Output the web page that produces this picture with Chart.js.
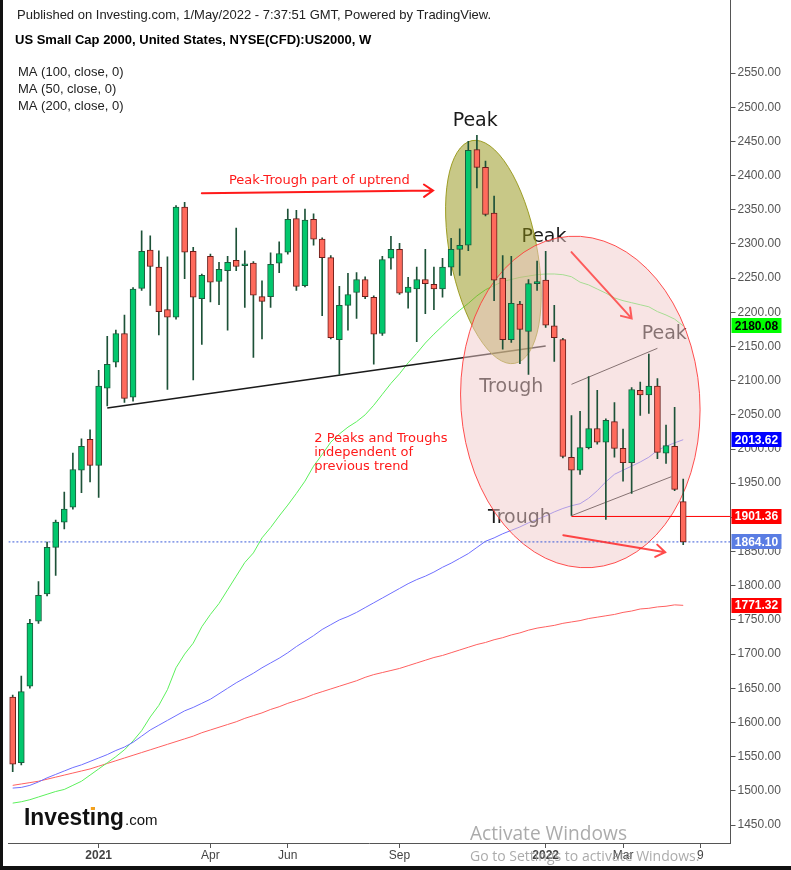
<!DOCTYPE html>
<html>
<head>
<meta charset="utf-8">
<script src="https://cdn.jsdelivr.net/npm/chart.js@4/dist/chart.umd.min.js"></script>
<style>
  html, body { margin: 0; padding: 0; background: #fff; }
</style>
</head>
<body>
<canvas id="chart" width="791" height="870"></canvas>
<script>
// weekly bars, week of 26 Oct 2020 .. 25 Apr 2022, plus empty weeks to 16 May 2022
const weeks = [];
for (let k = 0; k < 84; k++) {
  const d = new Date(Date.UTC(2020, 9, 26) + k * 7 * 864e5);
  weeks.push(d.toISOString().slice(0, 10));
}
const tickAt = [10, 23, 32, 45, 62, 71, 80];
const tickText = ['2021', 'Apr', 'Jun', 'Sep', '2022', 'Mar', '9'];

const ohlcOpen = [1637, 1541, 1653, 1748, 1788, 1856, 1893, 1915, 1969, 2014,
  1976, 2089, 2127, 2169, 2076, 2235, 2291, 2266, 2204, 2193,
  2354, 2289, 2220, 2282, 2245, 2261, 2276, 2268, 2272, 2223,
  2223, 2272, 2288, 2337, 2239, 2336, 2307, 2280, 2160, 2210,
  2229, 2248, 2222, 2169, 2279, 2292, 2229, 2234, 2248, 2241,
  2234, 2266, 2292, 2298, 2438, 2412, 2345, 2250, 2160, 2212,
  2172, 2242, 2247, 2180, 2160, 1988, 1969, 2002, 2030, 2010,
  2040, 2001, 1980, 2086, 2079, 2092, 1994, 2004, 1923];
const ohlcHigh = [1640, 1668, 1751, 1806, 1864, 1896, 1937, 1994, 2015, 2028,
  2115, 2165, 2174, 2196, 2236, 2319, 2312, 2290, 2281, 2356,
  2361, 2295, 2256, 2285, 2273, 2282, 2323, 2290, 2274, 2246,
  2287, 2303, 2351, 2349, 2351, 2344, 2309, 2283, 2238, 2257,
  2258, 2252, 2224, 2282, 2311, 2301, 2251, 2266, 2292, 2266,
  2279, 2308, 2322, 2450, 2459, 2421, 2370, 2283, 2282, 2216,
  2248, 2275, 2289, 2210, 2162, 2049, 2055, 2106, 2086, 2044,
  2068, 2029, 2090, 2098, 2139, 2103, 2035, 2061, 1956];
const ohlcLow = [1528, 1538, 1650, 1745, 1785, 1815, 1883, 1912, 1936, 1952,
  1929, 2063, 2120, 2068, 2070, 2232, 2210, 2167, 2087, 2190,
  2249, 2101, 2153, 2215, 2211, 2174, 2261, 2207, 2134, 2161,
  2207, 2258, 2285, 2232, 2237, 2298, 2195, 2161, 2109, 2174,
  2191, 2220, 2124, 2166, 2263, 2226, 2206, 2157, 2198, 2204,
  2222, 2254, 2254, 2290, 2382, 2341, 2217, 2146, 2156, 2125,
  2109, 2232, 2178, 2128, 1987, 1903, 1963, 2000, 2007, 1897,
  1988, 1953, 1935, 2049, 2052, 1986, 1979, 1939, 1860];
const ohlcClose = [1539, 1645, 1745, 1786, 1856, 1893, 1912, 1970, 2004, 1976,
  2092, 2124, 2169, 2074, 2234, 2289, 2267, 2201, 2193, 2354,
  2288, 2222, 2254, 2244, 2263, 2273, 2267, 2271, 2225, 2216,
  2270, 2286, 2336, 2238, 2335, 2307, 2280, 2163, 2210, 2226,
  2248, 2223, 2168, 2277, 2292, 2228, 2237, 2248, 2242, 2234,
  2266, 2292, 2298, 2437, 2412, 2343, 2247, 2160, 2213, 2175,
  2242, 2245, 2181, 2163, 1989, 1969, 2002, 2030, 2010, 2042,
  2001, 1980, 2087, 2079, 2092, 1995, 2005, 1941, 1864.10];

const ma50 = [1482, 1484, 1487, 1491, 1495, 1499, 1502, 1508, 1514, 1523,
  1532, 1541, 1550, 1560, 1573, 1588, 1608, 1625, 1648, 1680,
  1700, 1716, 1740, 1758, 1774, 1794, 1814, 1834, 1848, 1870,
  1885, 1902, 1918, 1935, 1953, 1975, 1992, 2010, 2022, 2032,
  2040, 2050, 2064, 2080, 2096, 2110, 2126, 2140, 2155, 2168,
  2180, 2192, 2203, 2213, 2224, 2233, 2239, 2245, 2248, 2251,
  2253, 2255, 2256, 2256, 2255, 2252, 2244, 2240, 2234, 2228,
  2221, 2217, 2214, 2211, 2208, 2201, 2196, 2190, 2180.08];
const ma100 = [1504, 1505, 1508, 1513, 1519, 1524, 1529, 1534, 1538, 1543,
  1548, 1553, 1559, 1564, 1571, 1580, 1589, 1596, 1603, 1610,
  1617, 1622, 1628, 1634, 1642, 1650, 1658, 1665, 1672, 1680,
  1687, 1694, 1702, 1711, 1719, 1727, 1736, 1743, 1750, 1755,
  1761, 1768, 1775, 1782, 1789, 1796, 1803, 1809, 1814, 1820,
  1827, 1833, 1840, 1847, 1856, 1865, 1870, 1876, 1881, 1886,
  1892, 1897, 1902, 1908, 1913, 1917, 1920, 1928, 1939, 1952,
  1963, 1969, 1975, 1981, 1988, 1998, 2004, 2009, 2013.62];
const ma200 = [1508, 1510, 1512, 1514, 1517, 1520, 1523, 1526, 1529, 1532,
  1536, 1540, 1544, 1548, 1552, 1556, 1560, 1564, 1568, 1572,
  1576, 1580, 1585, 1589, 1593, 1597, 1601, 1606, 1610, 1614,
  1619, 1623, 1628, 1632, 1636, 1641, 1645, 1649, 1653, 1657,
  1661, 1666, 1670, 1673, 1676, 1679, 1683, 1687, 1691, 1695,
  1698, 1702, 1706, 1710, 1714, 1717, 1721, 1724, 1728, 1731,
  1735, 1738, 1740, 1742, 1745, 1747, 1749, 1752, 1754, 1756,
  1758, 1761, 1763, 1766, 1767, 1769, 1770, 1772, 1771.32];

const hLineLevel = 1901.36;

const UP = '#02c76d', DOWN = '#ff6a5c';
const UP_EDGE = '#1b5c3c', DOWN_EDGE = '#6b1d1a', WICK = '#1d5238';
const UI_FONT = "'Liberation Sans', Arial, sans-serif";
const NOTE_FONT = "'DejaVu Sans', Verdana, sans-serif";

const isUp = ohlcOpen.map((o, k) => ohlcClose[k] >= o);
const wickData = ohlcLow.map((l, k) => [l, ohlcHigh[k]]);
const bodyData = ohlcOpen.map((o, k) => [o, ohlcClose[k]]);

// drawings, in (bar index, price) terms
const supportLine = [[11.0, 2060], [62.0, 2150.6]];
const channelLines = [
  [[65.0, 2094.6], [75.0, 2147.3]],
  [[65.0, 1902.4], [76.6, 1959.4]]
];
const noteText = ['Peak', 'Peak', 'Peak', 'Trough', 'Trough'];
const noteIdx = [53.8, 61.8, 75.8, 58.0, 59.0];
const noteVal = [2480, 2310, 2168, 2091, 1899];
const arrows = [
  { from: [22.0, 2374], to: [48.9, 2378], color: '#ff1a1a' },
  { from: [65.0, 2288], to: [72.0, 2191], color: 'rgba(255,45,45,0.75)' },
  { from: [64.05, 1874], to: [75.9, 1849], color: 'rgba(255,30,30,0.8)' }
];

function px(chart, i, v) {
  return [chart.scales.x.getPixelForValue(i), chart.scales.y.getPixelForValue(v)];
}

function drawEllipse(chart, i, v, halfIdx, halfVal, rot, fill, stroke) {
  const ctx = chart.ctx;
  const [cx, cy] = px(chart, i, v);
  const rx = chart.scales.x.getPixelForValue(i + halfIdx) - cx;
  const ry = chart.scales.y.getPixelForValue(v - halfVal) - cy;
  ctx.beginPath();
  ctx.ellipse(cx, cy, rx, ry, rot, 0, Math.PI * 2);
  ctx.fillStyle = fill;
  ctx.fill();
  ctx.lineWidth = 1;
  ctx.strokeStyle = stroke;
  ctx.stroke();
}

function drawArrow(ctx, x1, y1, x2, y2, color) {
  const a = Math.atan2(y2 - y1, x2 - x1), L = 11, s = 0.6;
  ctx.strokeStyle = color;
  ctx.lineWidth = 2;
  ctx.lineCap = 'round';
  ctx.beginPath();
  ctx.moveTo(x1, y1);
  ctx.lineTo(x2, y2);
  ctx.moveTo(x2 - L * Math.cos(a - s), y2 - L * Math.sin(a - s));
  ctx.lineTo(x2, y2);
  ctx.lineTo(x2 - L * Math.cos(a + s), y2 - L * Math.sin(a + s));
  ctx.stroke();
}

const drawings = {
  id: 'drawings',
  beforeDatasetDraw(chart, args) {
    if (args.index !== 3) return;
    const ctx = chart.ctx, area = chart.chartArea;
    ctx.save();
    ctx.beginPath();
    ctx.rect(area.left, area.top, area.right - area.left, area.bottom - area.top);
    ctx.clip();

    // trend lines
    ctx.lineWidth = 1.5;
    ctx.strokeStyle = '#1a1a1a';
    let [a, b] = [px(chart, ...supportLine[0]), px(chart, ...supportLine[1])];
    ctx.beginPath(); ctx.moveTo(a[0], a[1]); ctx.lineTo(b[0], b[1]); ctx.stroke();
    ctx.lineWidth = 1;
    channelLines.forEach(l => {
      const p = px(chart, ...l[0]), q = px(chart, ...l[1]);
      ctx.beginPath(); ctx.moveTo(p[0], p[1]); ctx.lineTo(q[0], q[1]); ctx.stroke();
    });

    // peak / trough notes
    ctx.font = '19px ' + NOTE_FONT;
    ctx.fillStyle = '#1a1a1a';
    ctx.textAlign = 'center';
    ctx.textBaseline = 'middle';
    noteText.forEach((t, k) => {
      const p = px(chart, noteIdx[k], noteVal[k]);
      ctx.fillText(t, p[0], p[1]);
    });

    // highlighted zones
    drawEllipse(chart, 55.92, 2288.2, 5.07, 165.9, -0.19, 'rgba(145,145,15,0.5)', 'rgba(150,150,20,0.9)');
    drawEllipse(chart, 66.03, 2068.8, 13.9, 242.8, -0.07, 'rgba(241,201,201,0.5)', 'rgba(255,60,60,0.9)');

    // current price and level lines
    const yc = chart.scales.y.getPixelForValue(ohlcClose[ohlcClose.length - 1]);
    ctx.strokeStyle = '#3a5bd9';
    ctx.setLineDash([2, 2]);
    ctx.beginPath(); ctx.moveTo(area.left, yc); ctx.lineTo(area.right, yc); ctx.stroke();
    ctx.setLineDash([]);
    const yl = chart.scales.y.getPixelForValue(hLineLevel);
    ctx.strokeStyle = '#ff0000';
    ctx.beginPath(); ctx.moveTo(chart.scales.x.getPixelForValue(65.0), yl); ctx.lineTo(area.right, yl); ctx.stroke();
    ctx.restore();
  },
  afterDatasetsDraw(chart) {
    const ctx = chart.ctx;
    ctx.save();
    arrows.forEach(ar => {
      const p = px(chart, ...ar.from), q = px(chart, ...ar.to);
      drawArrow(ctx, p[0], p[1], q[0], q[1], ar.color);
    });
    ctx.fillStyle = '#ff1a1a';
    ctx.font = '13px ' + NOTE_FONT;
    ctx.textAlign = 'left';
    ctx.textBaseline = 'middle';
    let p = px(chart, 25.16, 2392);
    ctx.fillText('Peak-Trough part of uptrend', p[0], p[1]);
    p = px(chart, 35.08, 2015.6);
    ['2 Peaks and Troughs', 'independent of', 'previous trend'].forEach((t, k) => {
      ctx.fillText(t, p[0], p[1] + k * 14);
    });
    ctx.restore();
  },
  afterDraw(chart) {
    const ctx = chart.ctx, area = chart.chartArea;
    ctx.save();
    // header
    ctx.textAlign = 'left';
    ctx.textBaseline = 'middle';
    ctx.fillStyle = '#222';
    ctx.font = '13px ' + UI_FONT;
    ctx.fillText('Published on Investing.com, 1/May/2022 - 7:37:51 GMT, Powered by TradingView.', 17, 15);
    ctx.fillStyle = '#000';
    ctx.font = 'bold 13px ' + UI_FONT;
    ctx.fillText('US Small Cap 2000, United States, NYSE(CFD):US2000, W', 15, 40);
    ctx.fillStyle = '#222';
    ctx.font = '13px ' + UI_FONT;
    chart.data.datasets.slice(0, 3).forEach((ds, k) => ctx.fillText(ds.label, 18, 72 + k * 17));

    // price tags on the axis
    const tagVals = [ma50[ma50.length - 1], ma100[ma100.length - 1], hLineLevel,
      ohlcClose[ohlcClose.length - 1], ma200[ma200.length - 1]];
    const tagBg = ['#00ff00', '#0000ff', '#ff0000', '#5a7de3', '#ff0000'];
    const tagFg = ['#000', '#fff', '#fff', '#fff', '#fff'];
    ctx.font = 'bold 12px ' + UI_FONT;
    ctx.textAlign = 'center';
    tagVals.forEach((v, k) => {
      const y = chart.scales.y.getPixelForValue(v);
      ctx.fillStyle = tagBg[k];
      ctx.fillRect(area.right + 1, Math.round(y - 7.5), 50, 15);
      ctx.fillStyle = tagFg[k];
      ctx.fillText(v.toFixed(2), area.right + 26, y + 0.5);
    });

    // logo
    ctx.textAlign = 'left';
    ctx.textBaseline = 'alphabetic';
    ctx.fillStyle = '#111';
    ctx.font = 'bold 23px ' + UI_FONT;
    const full = ctx.measureText('Investing').width;
    const k = Math.min(1, 100 / full);
    ctx.fillText('Investing', 24, 825, full * k);
    const iw = ctx.measureText('Invest').width * k;
    ctx.fillStyle = '#f5a01a';
    ctx.fillRect(24 + iw + 1, 807, 4, 3);
    ctx.fillStyle = '#111';
    ctx.font = '15px ' + UI_FONT;
    ctx.fillText('.com', 24 + full * k + 1, 825);

    // watermark
    ctx.fillStyle = 'rgba(150,150,150,0.8)';
    ctx.textBaseline = 'middle';
    ctx.font = '20px "Open Sans", sans-serif';
    ctx.fillText('Activate Windows', 470, 834, 157);
    ctx.font = '14px "Open Sans", sans-serif';
    ctx.fillText('Go to Settings to activate Windows.', 470, 857, 232);

    // frame
    ctx.fillStyle = '#111';
    ctx.fillRect(0, 0, 3, 870);
    ctx.fillRect(0, 866, 791, 4);
    ctx.restore();
  }
};

new Chart(document.getElementById('chart'), {
  type: 'bar',
  data: {
    labels: weeks,
    datasets: [
      { type: 'line', label: 'MA (100, close, 0)', data: ma100, borderColor: '#6f6fff', borderWidth: 1, pointRadius: 0, order: 3 },
      { type: 'line', label: 'MA (50, close, 0)', data: ma50, borderColor: '#5cf05c', borderWidth: 1, pointRadius: 0, order: 3 },
      { type: 'line', label: 'MA (200, close, 0)', data: ma200, borderColor: '#ff6060', borderWidth: 1, pointRadius: 0, order: 3 },
      { label: 'wick', data: wickData, backgroundColor: WICK, borderWidth: 0, barThickness: 1, grouped: false, order: 2 },
      {
        label: 'body', data: bodyData,
        backgroundColor: isUp.map(u => u ? UP : DOWN),
        borderColor: isUp.map(u => u ? UP_EDGE : DOWN_EDGE),
        borderWidth: 1, borderSkipped: false, barThickness: 6, minBarLength: 2,
        grouped: false, order: 1
      }
    ]
  },
  options: {
    responsive: false,
    devicePixelRatio: 1,
    animation: false,
    events: [],
    layout: { padding: { left: 8.4, top: 0, right: 0, bottom: 0 } },
    plugins: { legend: { display: false }, tooltip: { enabled: false } },
    scales: {
      x: {
        type: 'category',
        offset: true,
        grid: {
          offset: false,
          drawOnChartArea: false,
          tickLength: 5,
          tickColor: ctx => tickAt.includes(ctx.index) ? '#555' : 'rgba(0,0,0,0)'
        },
        border: { color: '#555' },
        ticks: {
          autoSkip: false,
          maxRotation: 0,
          padding: 0,
          color: '#444',
          font: ctx => ({ family: UI_FONT, size: 12, weight: /^\d{4}$/.test(tickText[tickAt.indexOf(ctx.index)] || '') ? 'bold' : 'normal' }),
          callback: (val, idx) => {
            const k = tickAt.indexOf(idx);
            return k >= 0 ? tickText[k] : '';
          }
        },
        afterFit: s => { s.height = 27; s.paddingLeft = 0; s.paddingRight = 0; }
      },
      y: {
        type: 'linear',
        position: 'right',
        min: 1423.67,
        max: 2656.8,
        grid: {
          drawOnChartArea: false,
          tickLength: 5,
          tickColor: ctx => (ctx.tick && ctx.tick.value > 2550) ? 'rgba(0,0,0,0)' : '#555'
        },
        border: { color: '#555' },
        ticks: {
          stepSize: 50,
          includeBounds: false,
          padding: 2,
          color: '#555',
          font: { family: UI_FONT, size: 12 },
          callback: v => v > 2550 ? '' : Number(v).toFixed(2)
        },
        afterFit: s => { s.width = 60.5; s.paddingTop = 0; s.paddingBottom = 0; }
      }
    }
  },
  plugins: [drawings]
});
</script>
</body>
</html>
